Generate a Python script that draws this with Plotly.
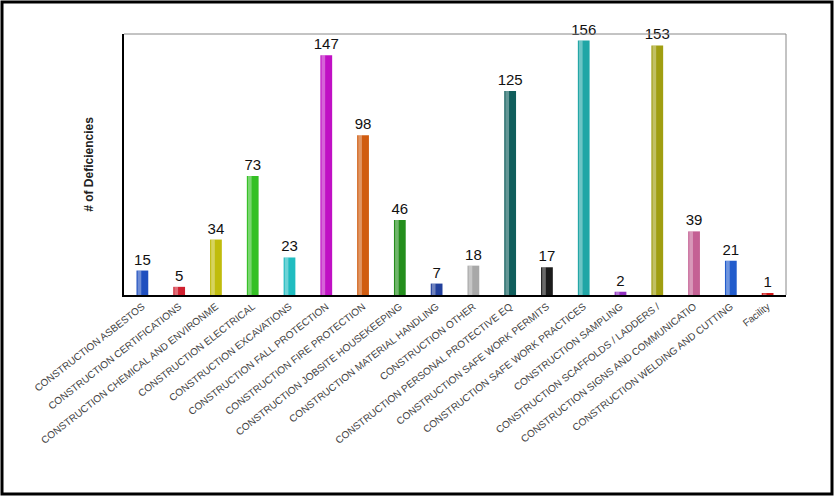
import plotly.graph_objects as go

categories = [
    "CONSTRUCTION ASBESTOS",
    "CONSTRUCTION CERTIFICATIONS",
    "CONSTRUCTION CHEMICAL AND ENVIRONME",
    "CONSTRUCTION ELECTRICAL",
    "CONSTRUCTION EXCAVATIONS",
    "CONSTRUCTION FALL PROTECTION",
    "CONSTRUCTION FIRE PROTECTION",
    "CONSTRUCTION JOBSITE HOUSEKEEPING",
    "CONSTRUCTION MATERIAL HANDLING",
    "CONSTRUCTION OTHER",
    "CONSTRUCTION PERSONAL PROTECTIVE EQ",
    "CONSTRUCTION SAFE WORK PERMITS",
    "CONSTRUCTION SAFE WORK PRACTICES",
    "CONSTRUCTION SAMPLING",
    "CONSTRUCTION SCAFFOLDS / LADDERS /",
    "CONSTRUCTION SIGNS AND COMMUNICATIO",
    "CONSTRUCTION WELDING AND CUTTING",
    "Facility",
]
deficiencies = [15, 5, 34, 73, 23, 147, 98, 46, 7, 18, 125, 17, 156, 2, 153, 39, 21, 1]

bar_colors = [
    "#1f4fbf", "#d0202f", "#c0bc0c", "#34c024", "#20bcc0", "#c010c4",
    "#d05c10", "#248e1c", "#22409c", "#a8a8a8", "#105e5c", "#1c1c1c",
    "#20a6a6", "#9030c0", "#a09e10", "#c46094", "#225ccc", "#d01818",
]

W, H = 834, 496
ml, mr, mt, mb = 124, 48, 34, 201

fig = go.Figure()
fig.add_trace(go.Bar(
    x=categories,
    y=deficiencies,
    marker=dict(color=bar_colors, line=dict(width=0)),
    width=0.32,
    offset=-0.16,
    text=deficiencies,
    textposition="outside",
    constraintext="none",
    textfont=dict(family="Arial", size=15, color="#111111"),
    cliponaxis=False,
    hoverinfo="x+y",
))
# light stripe on the left side of each bar, for the shaded-cylinder look
fig.add_trace(go.Bar(
    x=categories,
    y=deficiencies,
    marker=dict(color="rgba(255,255,255,0.35)", line=dict(width=0)),
    width=0.1,
    offset=-0.13,
    hoverinfo="skip",
))

# outer black frame of the picture
pw, ph = W - ml - mr, H - mt - mb
fig.add_shape(type="rect", xref="paper", yref="paper",
              x0=-(ml - 2) / pw, x1=1 + (mr - 2) / pw,
              y0=-(mb - 2) / ph, y1=1 + (mt - 2) / ph,
              line=dict(color="black", width=3))
# thin gray top/right edges of the plot box
fig.add_shape(type="line", xref="paper", yref="paper", x0=0, x1=1, y0=1, y1=1,
              line=dict(color="#888888", width=1))
fig.add_shape(type="line", xref="paper", yref="paper", x0=1, x1=1, y0=0, y1=1,
              line=dict(color="#888888", width=1))

fig.update_layout(
    width=W, height=H,
    margin=dict(l=ml, r=mr, t=mt, b=mb),
    plot_bgcolor="white",
    paper_bgcolor="white",
    showlegend=False,
    barmode="overlay",
    xaxis=dict(
        tickangle=-38,
        tickfont=dict(family="Arial", size=10, color="#444444"),
        showline=True, linecolor="black", linewidth=2,
        showgrid=False, ticks="",
    ),
    yaxis=dict(
        range=[0, 160],
        showticklabels=False,
        showgrid=False, zeroline=False,
        showline=True, linecolor="black", linewidth=2,
        title=dict(text="<b># of Deficiencies</b>", standoff=26,
                   font=dict(family="Arial", size=12, color="#222222")),
    ),
)

fig.write_html("out.html", config={"displayModeBar": False},
               post_script="document.body.style.margin='0';")
